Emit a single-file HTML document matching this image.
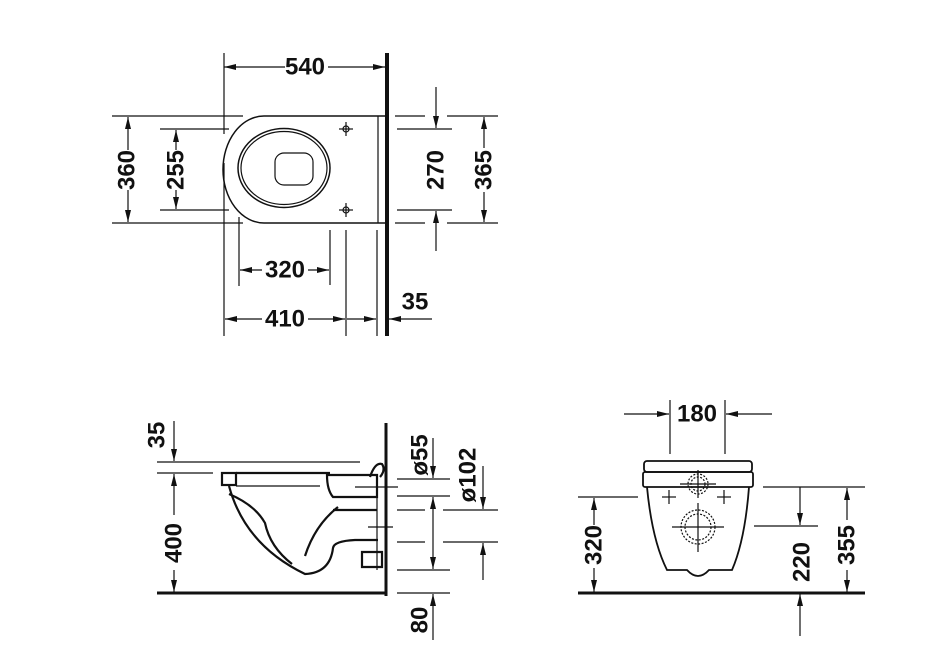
<!DOCTYPE html>
<html><head><meta charset="utf-8"><style>
html,body{margin:0;padding:0;background:#fff;}
svg{display:block}
text{font-family:"Liberation Sans",sans-serif;font-weight:bold;font-size:24px;fill:#111;text-anchor:middle;dominant-baseline:central}
</style></head><body>
<svg width="945" height="672" viewBox="0 0 945 672" xmlns="http://www.w3.org/2000/svg">
<defs>
<marker id="a" viewBox="0 0 12 6" refX="12" refY="3" markerWidth="12" markerHeight="6" markerUnits="userSpaceOnUse" orient="auto"><path d="M0,0 L12,3 L0,6z" fill="#111"/></marker>
</defs>
<g stroke="#111" stroke-width="1.2" fill="none">
<!-- TOP VIEW -->
<line x1="387" y1="53" x2="387" y2="336" stroke-width="4"/>
<line x1="224" y1="53" x2="224" y2="134"/>
<line x1="224" y1="163" x2="224" y2="336"/>
<line x1="285" y1="67" x2="224" y2="67" marker-end="url(#a)"/>
<line x1="328" y1="67" x2="385" y2="67" marker-end="url(#a)"/>
<path d="M387,116 L264,116 A41,53.5 0 0 0 264,223 L387,223" stroke-width="1.5"/>
<line x1="378" y1="116" x2="378" y2="223"/>
<ellipse cx="284" cy="168" rx="46" ry="39.5" stroke-width="1.5"/>
<ellipse cx="284" cy="168" rx="43" ry="36.5"/>
<rect x="275" y="153" width="38" height="32" rx="9"/>
<circle cx="346" cy="129" r="3"/><line x1="339" y1="129" x2="353" y2="129"/><line x1="346" y1="122" x2="346" y2="136"/>
<circle cx="346" cy="210" r="3"/><line x1="339" y1="210" x2="353" y2="210"/><line x1="346" y1="203" x2="346" y2="217"/>
<line x1="112" y1="116" x2="243" y2="116"/><line x1="112" y1="223" x2="243" y2="223"/>
<line x1="128" y1="150" x2="128" y2="117" marker-end="url(#a)"/>
<line x1="128" y1="190" x2="128" y2="222" marker-end="url(#a)"/>
<line x1="160" y1="129" x2="229" y2="129"/><line x1="160" y1="210" x2="229" y2="210"/>
<line x1="176" y1="150" x2="176" y2="130" marker-end="url(#a)"/>
<line x1="176" y1="190" x2="176" y2="209" marker-end="url(#a)"/>
<line x1="395" y1="116" x2="425" y2="116"/><line x1="447" y1="116" x2="498" y2="116"/>
<line x1="395" y1="223" x2="425" y2="223"/><line x1="447" y1="223" x2="498" y2="223"/>
<line x1="397" y1="129" x2="452" y2="129"/><line x1="397" y1="210" x2="452" y2="210"/>
<line x1="436" y1="87" x2="436" y2="128" marker-end="url(#a)"/>
<line x1="436" y1="251" x2="436" y2="211" marker-end="url(#a)"/>
<line x1="484" y1="148" x2="484" y2="117" marker-end="url(#a)"/>
<line x1="484" y1="192" x2="484" y2="222" marker-end="url(#a)"/>
<line x1="239" y1="217" x2="239" y2="286"/>
<line x1="330" y1="230" x2="330" y2="285"/>
<line x1="346" y1="230" x2="346" y2="336"/>
<line x1="377" y1="230" x2="377" y2="336"/>
<line x1="262" y1="270" x2="240" y2="270" marker-end="url(#a)"/>
<line x1="308" y1="270" x2="329" y2="270" marker-end="url(#a)"/>
<line x1="262" y1="319" x2="225" y2="319" marker-end="url(#a)"/>
<line x1="308" y1="319" x2="345" y2="319" marker-end="url(#a)"/>
<line x1="347" y1="319" x2="376" y2="319" marker-end="url(#a)"/>
<line x1="432" y1="319" x2="389" y2="319" marker-end="url(#a)"/>

<!-- SIDE VIEW -->
<line x1="386" y1="423" x2="386" y2="596" stroke-width="3"/>
<line x1="157" y1="593" x2="387" y2="593" stroke-width="3"/>
<line x1="174" y1="421" x2="174" y2="461" marker-end="url(#a)"/>
<line x1="157" y1="462" x2="360" y2="462"/>
<line x1="157" y1="473" x2="213" y2="473"/>
<line x1="174" y1="515" x2="174" y2="474" marker-end="url(#a)"/>
<line x1="174" y1="570" x2="174" y2="592" marker-end="url(#a)"/>
<g stroke-width="2.2">
<rect x="222" y="473" width="14" height="12"/>
<line x1="236" y1="473" x2="330" y2="473"/>
<path d="M229,486 Q245,545 305,574 Q330,573 333,548 Q334,541 355,540 L378,540"/>
<path d="M229,494 Q255,505 265,523 Q270,547 292,564"/>
<path d="M305,556 Q315,525 338,507"/>
<path d="M327,475 L377,475 L377,497 L333,497 Q327,490 327,475z"/>
<line x1="333" y1="510" x2="377" y2="510"/>
<path d="M362,552 L382,552 L382,567 L362,567z"/>
<path d="M370,477 Q375,462 382,464 Q386,470 380,477"/>
</g>
<line x1="236" y1="486" x2="320" y2="486"/>
<line x1="355" y1="487" x2="398" y2="487"/><line x1="368" y1="527" x2="393" y2="527"/>
<line x1="377" y1="475" x2="377" y2="570"/>
<line x1="397" y1="479" x2="450" y2="479"/><line x1="397" y1="496" x2="450" y2="496"/>
<line x1="397" y1="510" x2="425" y2="510"/><line x1="443" y1="510" x2="498" y2="510"/>
<line x1="397" y1="542" x2="425" y2="542"/><line x1="443" y1="542" x2="498" y2="542"/>
<line x1="397" y1="570" x2="450" y2="570"/><line x1="397" y1="593" x2="450" y2="593"/>
<line x1="433" y1="438" x2="433" y2="478" marker-end="url(#a)"/>
<line x1="433" y1="530" x2="433" y2="497" marker-end="url(#a)"/>
<line x1="433" y1="530" x2="433" y2="569" marker-end="url(#a)"/>
<line x1="483" y1="466" x2="483" y2="509" marker-end="url(#a)"/>
<line x1="483" y1="580" x2="483" y2="543" marker-end="url(#a)"/>
<line x1="433" y1="640" x2="433" y2="594" marker-end="url(#a)"/>

<!-- FRONT VIEW -->
<line x1="578" y1="593" x2="865" y2="593" stroke-width="3"/>
<line x1="670" y1="400" x2="670" y2="454"/><line x1="725" y1="400" x2="725" y2="454"/>
<line x1="624" y1="414" x2="669" y2="414" marker-end="url(#a)"/>
<line x1="772" y1="414" x2="726" y2="414" marker-end="url(#a)"/>
<g stroke-width="1.8">
<rect x="644" y="461" width="108" height="11" rx="3"/>
<rect x="643" y="472" width="110" height="15" rx="2"/>
<path d="M647,487 Q652,540 667,570 L687,570 Q698,582 709,570 L732,570 Q745,540 749,487"/>
</g>
<g stroke-dasharray="2,1.5">
<circle cx="698" cy="484" r="10"/><circle cx="698" cy="484" r="7"/>
<circle cx="698" cy="527" r="17"/><circle cx="698" cy="527" r="13"/>
</g>
<line x1="680" y1="484" x2="716" y2="484"/><line x1="698" y1="470" x2="698" y2="498"/>
<line x1="672" y1="527" x2="724" y2="527"/><line x1="698" y1="503" x2="698" y2="552"/>
<line x1="662" y1="497" x2="676" y2="497"/><line x1="669" y1="490" x2="669" y2="504"/>
<line x1="717" y1="497" x2="731" y2="497"/><line x1="724" y1="490" x2="724" y2="504"/>
<line x1="578" y1="497" x2="638" y2="497"/>
<line x1="594" y1="525" x2="594" y2="498" marker-end="url(#a)"/>
<line x1="594" y1="568" x2="594" y2="592" marker-end="url(#a)"/>
<line x1="763" y1="487" x2="865" y2="487"/>
<line x1="754" y1="526" x2="818" y2="526"/>
<line x1="800" y1="487" x2="800" y2="525" marker-end="url(#a)"/>
<line x1="800" y1="636" x2="800" y2="594" marker-end="url(#a)"/>
<line x1="847" y1="520" x2="847" y2="488" marker-end="url(#a)"/>
<line x1="847" y1="570" x2="847" y2="592" marker-end="url(#a)"/>
</g>
<g>
<text x="305" y="67">540</text>
<text transform="translate(127,170) rotate(-90)">360</text>
<text transform="translate(176,170) rotate(-90)">255</text>
<text transform="translate(436,170) rotate(-90)">270</text>
<text transform="translate(484,170) rotate(-90)">365</text>
<text x="285" y="270">320</text>
<text x="285" y="319">410</text>
<text x="415" y="302">35</text>
<text transform="translate(157,435) rotate(-90)">35</text>
<text transform="translate(174,543) rotate(-90)">400</text>
<text transform="translate(420,455) rotate(-90)">ø55</text>
<text transform="translate(468,475) rotate(-90)">ø102</text>
<text transform="translate(420,620) rotate(-90)">80</text>
<text x="697" y="414">180</text>
<text transform="translate(594,545) rotate(-90)">320</text>
<text transform="translate(802,562) rotate(-90)">220</text>
<text transform="translate(847,545) rotate(-90)">355</text>
</g>
</svg>
</body></html>
